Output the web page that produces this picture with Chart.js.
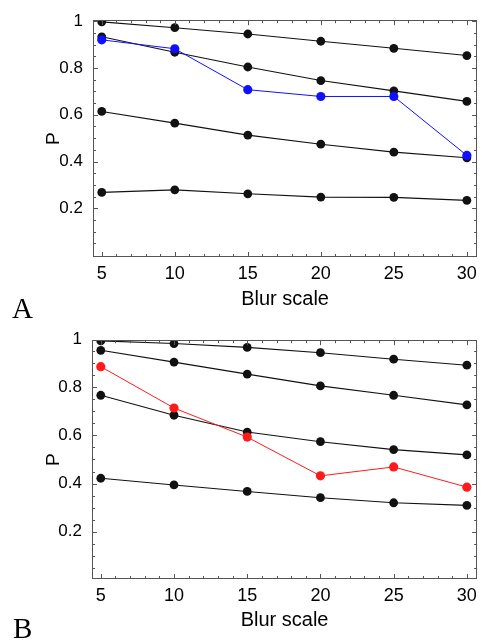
<!DOCTYPE html>
<html>
<head>
<meta charset="utf-8">
<script src="https://cdn.jsdelivr.net/npm/chart.js@4/dist/chart.umd.min.js"></script>
<style>
  html, body { margin: 0; padding: 0; background: #fff; }
  body { width: 483px; height: 642px; position: relative; overflow: hidden; }
  canvas { position: absolute; left: 0; }
  .panel { position: absolute; font-family: "Liberation Serif", "Times New Roman", serif; font-size: 29px; line-height: 29px; color: #000; }
</style>
</head>
<body>
<canvas id="chartA" width="483" height="320" style="top:0px"></canvas>
<canvas id="chartB" width="483" height="322" style="top:320px"></canvas>
<div class="panel" style="left:12px; top:294px;">A</div>
<div class="panel" style="left:13px; top:614px;">B</div>
<script>
// ---------- data ----------
const blurScale = [5, 10, 15, 20, 25, 30];
const xTickLabels = [5, 10, 15, 20, 25, 30];
const yTickLabels = [0.2, 0.4, 0.6, 0.8, 1];
const xAxisTitle = 'Blur scale';
const yAxisTitle = 'P';

// Panel A
const a1 = [0.997, 0.972, 0.945, 0.914, 0.884, 0.853];
const a2 = [0.933, 0.867, 0.804, 0.746, 0.702, 0.657];
const a3 = [0.614, 0.564, 0.513, 0.474, 0.440, 0.416];
const a4 = [0.268, 0.279, 0.262, 0.248, 0.247, 0.234];
const aBlue = [0.920, 0.882, 0.707, 0.678, 0.678, 0.426];

// Panel B
const b1 = [0.993, 0.982, 0.966, 0.944, 0.917, 0.892];
const b2 = [0.954, 0.905, 0.855, 0.806, 0.767, 0.727];
const b3 = [0.767, 0.684, 0.614, 0.574, 0.541, 0.519];
const b4 = [0.422, 0.394, 0.367, 0.341, 0.320, 0.309];
const bRed = [0.886, 0.714, 0.593, 0.432, 0.469, 0.385];

// ---------- helpers ----------
const pts = arr => arr.map((v, i) => ({ x: blurScale[i], y: v }));

function series(arr, color, width, radius) {
  return {
    data: pts(arr),
    borderColor: color,
    backgroundColor: color,
    pointBackgroundColor: color,
    pointBorderColor: color,
    pointBorderWidth: 0,
    pointRadius: radius,
    borderWidth: width,
    tension: 0,
    clip: 0
  };
}

const frameTicks = {
  id: 'frameTicks',
  afterDatasetsDraw(chart) {
    const { ctx, chartArea: ca, scales: { x, y } } = chart;
    ctx.save();
    ctx.strokeStyle = '#555';
    ctx.lineWidth = 1;
    ctx.beginPath();
    for (let v = Math.ceil(x.min); v <= x.max; v++) {
      const px = Math.round(x.getPixelForValue(v)) + 0.5;
      const len = (v % 5 === 0) ? 5 : 3;
      ctx.moveTo(px, ca.bottom); ctx.lineTo(px, ca.bottom - len);
      ctx.moveTo(px, ca.top); ctx.lineTo(px, ca.top + len);
    }
    for (let k = 1; k <= 20; k++) {
      const v = k * 0.05;
      if (v < y.min || v > y.max) continue;
      const py = Math.round(y.getPixelForValue(v)) + 0.5;
      const len = (k % 4 === 0) ? 5 : 3;
      ctx.moveTo(ca.left, py); ctx.lineTo(ca.left + len, py);
      ctx.moveTo(ca.right, py); ctx.lineTo(ca.right - len, py);
    }
    ctx.stroke();
    ctx.strokeRect(Math.round(ca.left) + 0.5, Math.round(ca.top) + 0.5,
                   Math.round(ca.right - ca.left) - 1, Math.round(ca.bottom - ca.top) - 1);
    ctx.restore();
  }
};

function makeChart(id, datasets, cfg) {
  const tickFontX = { family: "'Liberation Sans', Arial, sans-serif", size: 18 };
  const tickFontY = { family: "'Liberation Sans', Arial, sans-serif", size: 17 };
  const titleFont = { family: "'Liberation Sans', Arial, sans-serif", size: 20 };
  return new Chart(document.getElementById(id), {
    type: 'line',
    data: { datasets },
    plugins: [frameTicks],
    options: {
      responsive: false,
      animation: false,
      events: [],
      layout: { padding: { left: 0, right: cfg.padRight, top: cfg.padTop, bottom: 0 } },
      plugins: { legend: { display: false }, tooltip: { enabled: false } },
      scales: {
        x: {
          type: 'linear',
          min: 4.4, max: 30.7,
          afterBuildTicks: s => { s.ticks = xTickLabels.map(v => ({ value: v })); },
          afterFit: s => { s.height = cfg.xHeight; },
          grid: { display: false, drawTicks: false },
          border: { display: false },
          ticks: { font: tickFontX, color: '#000', padding: 6, maxRotation: 0, autoSkip: false,
                   callback: v => String(v) },
          title: { display: true, text: xAxisTitle, font: titleFont, color: '#000',
                   padding: { top: 0, bottom: cfg.titlePadBottom } }
        },
        y: {
          type: 'linear',
          min: cfg.yMin, max: cfg.yMax,
          afterBuildTicks: s => { s.ticks = yTickLabels.map(v => ({ value: v })); },
          afterFit: s => { s.width = cfg.yWidth; },
          grid: { display: false, drawTicks: false },
          border: { display: false },
          ticks: { font: tickFontY, color: '#000', padding: 10,
                   callback: v => String(+v.toFixed(2)) },
          title: { display: true, text: yAxisTitle, font: { family: "'Liberation Sans', Arial, sans-serif", size: 19 },
                   color: '#000', padding: { top: 42, bottom: 0 } }
        }
      }
    }
  });
}

makeChart('chartA', [
  series(aBlue, '#1010ff', 1, 4.6),
  series(a1, '#111', 1.1, 4.4),
  series(a2, '#111', 1.1, 4.4),
  series(a3, '#111', 1.1, 4.4),
  series(a4, '#111', 1.1, 4.4)
], { padTop: 14, padRight: 5, xHeight: 63, yWidth: 93, yMin: -0.008, yMax: 1.004, titlePadBottom: 9 });

makeChart('chartB', [
  series(bRed, '#ff1a1a', 1, 4.6),
  series(b1, '#111', 1.1, 4.4),
  series(b2, '#111', 1.1, 4.4),
  series(b3, '#111', 1.1, 4.4),
  series(b4, '#111', 1.1, 4.4)
], { padTop: 19, padRight: 4, xHeight: 63, yWidth: 92, yMin: 0.003, yMax: 0.996, titlePadBottom: 10 });
</script>
</body>
</html>
